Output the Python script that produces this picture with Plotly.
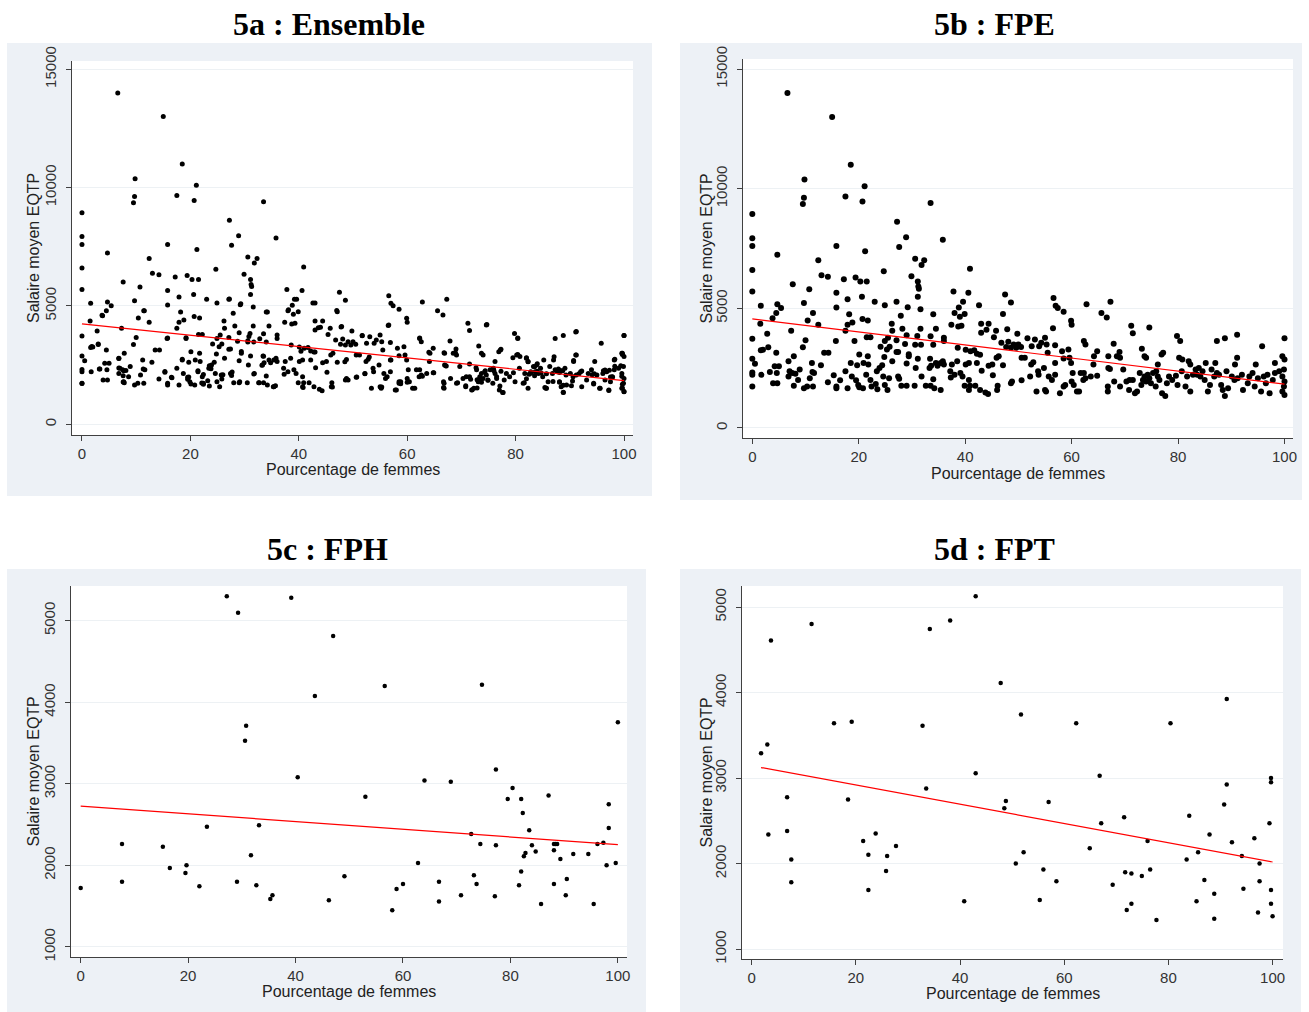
import plotly.graph_objects as go

# ---------------- data ----------------
fpe_x = [6.6, 15, 18.5, 9.8, 21.1, 17.5, 9.7, 9.5, 20.7, 33.5,
         0, 27.2, 28.9, 35.8, 0, 0, 15.8, 4.7, 27.6, 21.2,
         12.4, 30.6, 32.3, 31.8, 40.9, 0, 24.7, 13, 14.2, 29.9,
         17.2, 19.4, 20.3, 21.5, 31.1, 31.2, 31.3, 7.6, 10.7, 0,
         15.8, 37.8, 40.6, 39.6, 31.1, 20.6, 17.9, 9.7, 1.6, 4.7,
         5.4, 15.8, 23, 24.9, 27.1, 29.2, 31.6, 38.8, 42.6, 3.8,
         4.5, 11.4, 10.4, 18.2, 20.7, 21.7, 18.8, 17.9, 12.4, 1.5,
         27.9, 34, 38, 39, 39.9, 37.4, 38.7, 39.3, 26.2, 28.2,
         31.6, 34.5, 43, 44.4, 7.3, 17.5, 26.3, 43, 44, 45.8,
         2.8, 0, 10, 15.7, 19.2, 21.5, 22.2, 24.9, 25.5, 27.1,
         29, 31, 33.5, 36, 36, 45.4, 9.5, 7.8, 1.6, 2,
         3, 4.5, 13.5, 14.3, 24.1, 25.3, 25.8, 27.4, 28.7, 29.4,
         30.6, 31.7, 34, 38.6, 40.1, 41, 41.7, 42.2, 42.8, 0,
         0.5, 0, 0, 0, 6.8, 7, 7.5, 8.1, 8.9, 11.2,
         11.3, 11.6, 12.9, 1.7, 3.3, 4.2, 5, 4.6, 3.9, 4.7,
         6.8, 7.8, 8.6, 9.7, 10.3, 10.8, 11.4, 14.2, 15.3, 15.8,
         15.8, 16.5, 17.9, 18.5, 17.5, 18.7, 19.5, 19.9, 20.1, 20.8,
         20.1, 19.7, 20.9, 21.7, 21.8, 21.4, 22.2, 22.4, 23.2, 23.5,
         23.4, 23.9, 24.6, 25.4, 24.9, 25.7, 24.4, 24.8, 26.3, 27.1,
         27.4, 27.6, 28, 29, 29, 29.4, 30.5, 30.7, 31.1, 31.8,
         32.6, 33.4, 33.3, 33.6, 34, 33.5, 34.5, 34.8, 35.4, 35.8,
         35.4, 34.2, 36, 37.2, 37.5, 37.3, 38, 38.5, 39.1, 39.5,
         40.1, 40.7, 39.9, 40.7, 40.9, 40.7, 42.2, 41.9, 42.8, 43.1,
         43.8, 44.3, 44.4, 45.1, 45.2, 45.9, 46.3, 46.1, 46, 47.1, 47.1, 47.5,
         48.6, 47.9, 46.8, 48.1, 47.7, 48.6, 49.1, 49.8, 50, 49.6,
         50.5, 50.6, 51.2, 51.7, 52.5, 53.1, 53.9, 54.3, 55, 55.3,
         55.5, 56.5, 56.6, 57, 57.4, 58.5, 59.9, 60, 56.9, 58.2,
         59.4, 58.5, 59.6, 59.9, 62.6, 62.3, 62.8, 64.2, 64.8, 65.6,
         66.6, 67.3, 67.9, 66.9, 68.5, 69, 69.1, 71.2, 71.5, 73.2,
         73.7, 74, 74.6, 76.9, 77.2, 76.2, 79.8, 80.4, 80.2, 80.8,
         82, 82.3, 87.3, 88.8, 91.1, 91.1, 90.7, 95.8, 94.6, 100,
         99.6, 100, 98.2, 48.6, 48.8, 50.6, 52.2, 52.4, 52.8, 53.4,
         53.7, 53.8, 55, 55.2, 54.8, 55.7, 56.3, 56.9, 56.9, 57.8,
         58.5, 58.8, 60, 60.2, 60.4, 61, 61.4, 61.7, 62.3, 62.2,
         62.6, 63.6, 64.1, 64.8, 66.8, 66.8, 66.9, 67.2, 68, 69.1,
         69.7, 70.3, 70.8, 70.9, 71.5, 71.9, 72.3, 72.8, 73.1, 73.4,
         73.7, 74, 74.3, 74.6, 74.9, 75.3, 75.8, 75.9, 76.2, 76.5,
         77, 77.6, 77.9, 78.3, 78.9, 79.6, 79.9, 80.7, 81.4, 81.7,
         82.3, 82.8, 83.3, 83.6, 83.9, 84.2, 84.6, 85, 85.2, 85.6,
         86, 86.3, 86.8, 87, 87.3, 87.7, 88.1, 88.4, 88.8, 89.1,
         89.4, 90.1, 90.6, 91.2, 92, 92.2, 93.1, 93.4, 94, 94.4,
         95, 95.6, 96.1, 96.5, 96.8, 97.2, 97.8, 98.2, 99, 99.6,
         99.6, 99.9, 100, 100, 99.9]
fpe_y = [14000, 13000, 11000, 10380, 10100, 9670, 9620, 9360, 9460, 9400,
         8940, 8620, 7970, 7870, 7930, 7600, 7600, 7240, 7560, 7390,
         7010, 7070, 7010, 6810, 6650, 6600, 6550, 6380, 6320, 6340,
         6220, 6290, 6120, 6120, 6120, 5910, 5820, 6010, 5800, 5700,
         5650, 5700, 5650, 5280, 5480, 5480, 5380, 5220, 5110, 5170,
         5010, 5040, 5280, 5130, 5280, 5050, 4960, 5030, 5130, 4590,
         4800, 4800, 4490, 4750, 4550, 4490, 4410, 4310, 4310, 4360,
         4690, 4750, 4800, 4650, 4760, 4310, 4240, 4270, 4360, 4150,
         4150, 4150, 4360, 4360, 4060, 4060, 4060, 3980, 4100, 4060,
         3940, 3730, 3670, 3630, 3630, 3790, 3790, 3630, 3770, 3670,
         3870, 3840, 3830, 3770, 3630, 3790, 3370, 3000, 3250, 3270,
         3370, 3140, 3140, 3140, 3390, 3280, 3390, 3180, 3510, 3080,
         3480, 3480, 3480, 3350, 3270, 3210, 3250, 3100, 3060, 2890,
         2680, 2320, 2220, 1730, 2790, 2370, 2300, 2270, 2440, 2720,
         2340, 2300, 2620, 2220, 2340, 2580, 2580, 2300, 1870, 1870,
         2150, 1760, 2010, 1660, 1730, 2080, 1730, 1910, 2200, 1730,
         1660, 1990, 1660, 2720, 2370, 2150, 1990, 1800, 1700, 1660,
         3070, 2620, 2720, 3000, 2650, 2220, 2010, 1730, 1840, 1620,
         2370, 2510, 2150, 1590, 1800, 2080, 2620, 2970, 2790, 3170,
         2150, 2060, 1760, 1760, 2690, 3000, 1760, 2510, 2890, 2150,
         1760, 2890, 2510, 2600, 2040, 1760, 2720, 2600, 2720, 2790,
         1590, 1660, 2650, 2370, 2650, 2110, 2220, 2790, 2300, 2150,
         2650, 2720, 1760, 1590, 1760, 2010, 2720, 1760, 1590, 2390,
         1480, 1420, 2600, 2650, 2200, 2930, 3000, 1760, 1590, 2620, 4760, 5580,
         5240, 4130, 3560, 3600, 3380, 3350, 3490, 3940, 3490, 3350,
         3380, 2930, 2930, 3750, 3420, 3700, 3420, 3560, 3770, 3490,
         3140, 4170, 5430, 5110, 5010, 4860, 4480, 4310, 3460, 3210,
         3280, 2900, 2930, 2720, 3490, 3630, 5170, 3000, 3210, 4800,
         4620, 5280, 3520, 3000, 3000, 3180, 2930, 4270, 3960, 3310,
         3000, 2930, 4200, 3070, 3140, 2650, 3840, 3630, 2930, 2860,
         2790, 2650, 3630, 3750, 3900, 2930, 2650, 3420, 2650, 3750,
         3000, 2860, 2720, 1870, 1940, 1990, 2150, 2650, 2750, 1520,
         2370, 2220, 1590, 1520, 2510, 2150, 2010, 2220, 2720, 1450,
         1730, 1800, 1940, 2300, 1800, 1520, 1520, 2300, 2300, 2010,
         2080, 2150, 2650, 2180, 1730, 1520, 2510, 2460, 1940, 1730,
         2440, 1940, 1590, 2010, 2010, 1450, 1520, 2300, 1800, 2010,
         2150, 1940, 2220, 2080, 1870, 2300, 1730, 2370, 2150, 2010,
         1450, 1340, 1870, 2150, 2010, 2180, 1800, 2370, 1730, 2150,
         1520, 2220, 2440, 2220, 2510, 2150, 2370, 2010, 2720, 1520,
         1800, 2440, 2150, 2720, 2300, 2220, 1800, 1590, 1340, 2370,
         1660, 2150, 2010, 2080, 2220, 1590, 1870, 2150, 2300, 1730,
         2080, 1520, 2150, 1870, 2220, 1450, 2010, 2300, 2370, 2150,
         1520, 1730, 1940, 1380, 2440]

fph_x = [0, 7.7, 7.7, 15.3, 16.6, 19.5, 19.7, 22.1, 23.5, 27.2,
         29.3, 30.8, 30.6, 29.1, 31.7, 32.7, 33.2, 35.3, 35.7, 39.2,
         40.4, 43.6, 46.2, 47, 49.1, 53, 56.6, 58, 58.8, 60,
         62.8, 64, 66.7, 66.7, 68.9, 70.8, 72.7, 73.2, 73.7, 74.4,
         74.7, 77.1, 77.3, 77.3, 79.5, 80.4, 82, 82.3, 81.6, 82,
         82.5, 82.8, 83.5, 84, 84.7, 85.7, 87.1, 88.1, 88.4, 88.7,
         88.1, 88.1, 89.3, 90.3, 90.5, 91.7, 94.5, 95.5, 96.2, 97.3,
         97.9, 98.3, 98.3, 99.6, 100]
fph_y = [1724, 2262, 1801, 2230, 1969, 1907, 2001, 1744, 2475, 5298,
         5098, 3711, 3527, 1801, 2124, 1756, 2491, 1589, 1634, 5281,
         3082, 4078, 1573, 4812, 1867, 2842, 4200, 1450, 1711, 1773,
         2030, 3042, 1801, 1556, 3025, 1634, 2385, 1879, 1773, 2262,
         4213, 1621, 3176, 2246, 2813, 2948, 2813, 2642, 1756, 1924,
         2111, 2152, 2430, 2246, 2169, 1528, 2858, 2262, 2262, 2262,
         2185, 1773, 2079, 1634, 1834, 2140, 2140, 1528, 2262, 2279,
         2001, 2458, 2748, 2030, 3756]

fpt_x = [1.8, 3, 3.7, 3.2, 6.8, 6.8, 7.6, 7.6, 11.5, 15.8,
         19.2, 18.5, 21.4, 22.4, 22.4, 23.8, 25.8, 26, 27.7, 32.8,
         33.5, 34.2, 38.1, 40.8, 43, 43, 47.8, 48.5, 48.8, 50.7,
         51.7, 52.2, 55.3, 56, 57, 58.5, 62.3, 64.9, 66.8, 67.1,
         69.3, 71.5, 71.7, 72, 72.9, 72.9, 74.9, 76, 76.5, 77.7,
         80.4, 83.5, 84, 85.4, 85.7, 86.9, 87.9, 88.8, 88.8, 90.7,
         91.2, 91.2, 92.2, 94.1, 94.4, 96.5, 97.2, 97.5, 97.5, 99.4,
         99.7, 99.7, 99.7, 99.7, 100]
fpt_y = [3292, 3393, 4610, 2340, 2777, 2383, 2048, 1783, 4801, 3643,
         3658, 2750, 2266, 2106, 1693, 2352, 1915, 2091, 2208, 3612,
         2878, 4743, 4844, 1560, 5125, 3058, 4111, 2648, 2734, 2001,
         3744, 2134, 1576, 1931, 2722, 1794, 3643, 2180, 3027, 2473,
         1755, 2543, 1900, 1459, 1884, 1533, 1857, 2266, 1931, 1342,
         3643, 2048, 2559, 1560, 2134, 1810, 2340, 1650, 1357, 2691,
         3924, 2925, 2251, 2091, 1708, 2297, 1431, 2001, 1794, 2473,
         1693, 1533, 3003, 2953, 1385]

# Ensemble = FPE + FPH + FPT
ens_x = fpe_x + fph_x + fpt_x
ens_y = fpe_y + fph_y + fpt_y

# fitted lines (end points)
fit_ens_x, fit_ens_y = [0, 100], [4240, 1845]
fit_fpe_x, fit_fpe_y = [0, 100], [4560, 1830]
fit_fph_x, fit_fph_y = [0, 100], [2727, 2254]
fit_fpt_x, fit_fpt_y = [1.8, 100], [3124, 2020]

x_ticks = [0, 20, 40, 60, 80, 100]
y_ticks_big = [0, 5000, 10000, 15000]
y_ticks_small = [1000, 2000, 3000, 4000, 5000]

titles = ["5a : Ensemble", "5b : FPE", "5c : FPH", "5d : FPT"]
x_title = "Pourcentage de femmes"
y_title = "Salaire moyen EQTP"

# ---------------- layout ----------------
W, H = 1309, 1012
BOX = "#edf1f6"
AX = "#404040"
GRID = "#edf1f4"
SANS = "Liberation Sans, Arial, sans-serif"
SERIF = "Liberation Serif, Times New Roman, serif"

def fx(p):
    return p / W

def fy(p):
    return 1 - p / H

panels = [
    dict(data=(ens_x, ens_y), fit=(fit_ens_x, fit_ens_y), box=(7, 43, 652, 496),
         plot=(72, 61, 633, 435), xr=[-1.84, 101.66], yr=[-452, 15350],
         yt=y_ticks_big, ms=5, title_xy=(329, 24), xt_y=468, yt_x=33),
    dict(data=(fpe_x, fpe_y), fit=(fit_fpe_x, fit_fpe_y), box=(680, 43, 1302, 500),
         plot=(743, 59, 1293, 438), xr=[-1.75, 101.6], yr=[-419, 15420],
         yt=y_ticks_big, ms=6, title_xy=(994, 24), xt_y=472, yt_x=706),
    dict(data=(fph_x, fph_y), fit=(fit_fph_x, fit_fph_y), box=(7, 569, 646, 1012),
         plot=(71, 586, 627, 957), xr=[-1.8, 101.7], yr=[877, 5425],
         yt=y_ticks_small, ms=4.5, title_xy=(327, 549), xt_y=990, yt_x=33),
    dict(data=(fpt_x, fpt_y), fit=(fit_fpt_x, fit_fpt_y), box=(680, 569, 1301, 1012),
         plot=(742, 586, 1283, 959), xr=[-1.86, 102.0], yr=[886, 5246],
         yt=y_ticks_small, ms=4.5, title_xy=(994, 549), xt_y=992, yt_x=706),
]

fig = go.Figure()
shapes = []
annotations = []
layout_axes = {}

for i, p in enumerate(panels):
    n = "" if i == 0 else str(i + 1)
    xs, ys = p["data"]
    fxs, fys = p["fit"]
    fig.add_trace(go.Scatter(x=xs, y=ys, mode="markers", xaxis="x" + n, yaxis="y" + n,
                             marker=dict(color="black", size=p["ms"], line=dict(width=0)),
                             showlegend=False, hoverinfo="x+y"))
    fig.add_trace(go.Scatter(x=fxs, y=fys, mode="lines", xaxis="x" + n, yaxis="y" + n,
                             line=dict(color="#ff0000", width=1.2),
                             showlegend=False, hoverinfo="skip"))
    bx0, by0, bx1, by1 = p["box"]
    px0, py0, px1, py1 = p["plot"]
    shapes.append(dict(type="rect", xref="paper", yref="paper", layer="below",
                       x0=fx(bx0), x1=fx(bx1), y0=fy(by1), y1=fy(by0),
                       fillcolor=BOX, line=dict(width=0)))
    shapes.append(dict(type="rect", xref="paper", yref="paper", layer="below",
                       x0=fx(px0), x1=fx(px1), y0=fy(py1), y1=fy(py0),
                       fillcolor="white", line=dict(width=0)))
    common = dict(showline=True, linecolor=AX, linewidth=1, ticks="outside",
                  ticklen=5, tickcolor=AX, tickwidth=1, zeroline=False,
                  tickformat="d", automargin=False,
                  tickfont=dict(family=SANS, size=15, color="#333333"))
    layout_axes["xaxis" + n] = dict(common, domain=[fx(px0), fx(px1)], range=p["xr"],
                                    anchor="y" + n, tickvals=x_ticks, showgrid=False,
                                    ticklabelstandoff=0)
    layout_axes["yaxis" + n] = dict(common, domain=[fy(py1), fy(py0)], range=p["yr"],
                                    anchor="x" + n, tickvals=p["yt"], showgrid=True,
                                    gridcolor=GRID, gridwidth=1, tickangle=-90,
                                    ticklabelstandoff=4)
    tx, ty = p["title_xy"]
    annotations.append(dict(text=titles[i], xref="paper", yref="paper", x=fx(tx), y=fy(ty),
                            showarrow=False, xanchor="center", yanchor="middle",
                            font=dict(family=SERIF, size=32, color="black", weight="bold")))
    annotations.append(dict(text=x_title, xref="paper", yref="paper",
                            x=fx((px0 + px1) / 2), y=fy(p["xt_y"] + 1), showarrow=False,
                            xanchor="center", yanchor="middle",
                            font=dict(family=SANS, size=16, color="#222222")))
    annotations.append(dict(text=y_title, xref="paper", yref="paper",
                            x=fx(p["yt_x"]), y=fy((py0 + py1) / 2), showarrow=False,
                            textangle=-90, xanchor="center", yanchor="middle",
                            font=dict(family=SANS, size=16, color="#222222")))

fig.update_layout(width=W, height=H, margin=dict(l=0, r=0, t=0, b=0, autoexpand=False),
                  paper_bgcolor="white", plot_bgcolor="rgba(0,0,0,0)",
                  shapes=shapes, annotations=annotations, **layout_axes)

pin = ("document.documentElement.style.margin='0';"
       "document.body.style.margin='0';document.body.style.padding='0';"
       "document.body.style.overflow='hidden';"
       "var g=document.querySelector('.plotly-graph-div');"
       "g.style.position='fixed';g.style.left='0px';g.style.top='0px';g.style.zIndex='10';")

fig.write_html("out.html", config={"displayModeBar": False}, post_script=pin)
